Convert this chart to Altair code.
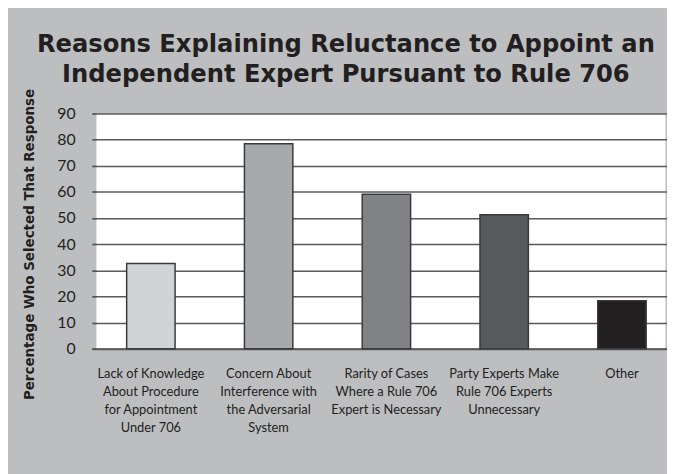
import altair as alt
import pandas as pd

categories = [
    "Lack of Knowledge\nAbout Procedure\nfor Appointment\nUnder 706",
    "Concern About\nInterference with\nthe Adversarial\nSystem",
    "Rarity of Cases\nWhere a Rule 706\nExpert is Necessary",
    "Party Experts Make\nRule 706 Experts\nUnnecessary",
    "Other",
]
percentages = [32.6, 78.4, 59.1, 51.3, 18.4]
bar_colors = ["#d1d3d4", "#a7a9ac", "#808285", "#58595b", "#231f20"]
y_ticks = [0, 10, 20, 30, 40, 50, 60, 70, 80, 90]
title_lines = [
    "Reasons Explaining Reluctance to Appoint an",
    "Independent Expert Pursuant to Rule 706",
]
y_title = "Percentage Who Selected That Response"

df = pd.DataFrame({"reason": categories, "pct": percentages})

TEXT = "#231f20"
LINE = "#58595b"

chart = (
    alt.Chart(df)
    .mark_bar(width=49, stroke="#3a3a3c", strokeWidth=1.5)
    .encode(
        x=alt.X(
            "reason:N",
            sort=categories,
            scale=alt.Scale(range=[-4, 592], paddingInner=0, paddingOuter=0),
            axis=alt.Axis(
                title=None,
                labelAngle=0,
                labelExpr="split(datum.label, '\\n')",
                labelFont="Lato",
                labelFontSize=13,
                labelLineHeight=18.3,
                labelColor=TEXT,
                labelBaseline="alphabetic",
                labelPadding=29,
                labelLimit=300,
                ticks=False,
                domainColor=LINE,
                domainWidth=2,
            ),
        ),
        y=alt.Y(
            "pct:Q",
            scale=alt.Scale(domain=[0, 90], nice=False),
            axis=alt.Axis(
                values=y_ticks,
                title=y_title,
                titleFont="DejaVu Sans",
                titleFontSize=13.6,
                titleFontWeight="bold",
                titleColor=TEXT,
                titleAngle=270,
                titleBaseline="alphabetic",
                titleAlign="center",
                titleX=-63,
                titleY=132,
                labelFont="Lato",
                labelFontSize=16,
                labelColor=TEXT,
                labelPadding=17,
                tickSize=4,
                tickColor=LINE,
                tickWidth=1.5,
                grid=True,
                gridColor=LINE,
                gridWidth=1.5,
                gridOpacity=1,
                domain=False,
            ),
        ),
        color=alt.Color(
            "reason:N",
            sort=categories,
            scale=alt.Scale(domain=categories, range=bar_colors),
            legend=None,
        ),
    )
    .properties(
        width=576,
        height=238,
        title=alt.Title(
            title_lines,
            font="DejaVu Sans",
            fontSize=24.5,
            fontWeight="bold",
            color=TEXT,
            lineHeight=30,
            anchor="middle",
            dx=-35,
            dy=3,
        ),
        autosize=alt.AutoSizeParams(type="none"),
        padding={"left": 89, "top": 104, "right": 2, "bottom": 124},
        background="#bcbec0",
    )
    .configure_view(stroke="transparent", fill="white")
)

chart.save("out.html", embed_options={"renderer": "svg", "actions": False})
